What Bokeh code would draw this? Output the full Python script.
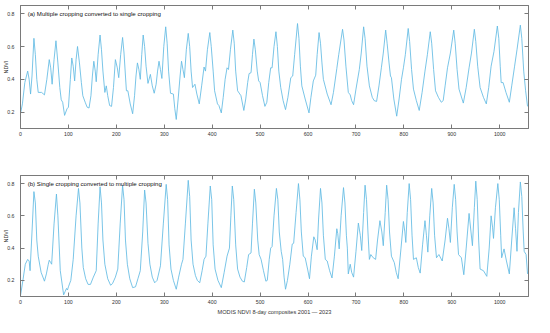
from bokeh.plotting import figure
from bokeh.models import Range1d, LinearAxis, Label, FixedTicker
from bokeh.layouts import column
from bokeh.embed import file_html
from bokeh.resources import INLINE

# ---- data ----
a_x = [0,4,9,15,18,21,24,28,31,34,37,44,50,55,60,63,66,70,74,78,82,85,88,92,97,100,104,107,110,113,116,119,123,127,130,135,139,143,147,150,153,156,158,162,166,169,172,176,179,182,186,190,194,198,202,205,209,213,216,219,221,224,229,234,238,241,244,247,250,253,256,259,262,266,271,275,279,283,286,289,292,295,299,303,306,309,313,319,322,325,329,333,336,339,342,346,350,353,356,359,364,368,373,378,383,386,390,395,398,402,405,411,414,419,423,427,431,434,438,443,446,449,453,460,466,470,474,477,481,484,487,490,494,497,500,505,510,514,518,522,525,529,533,536,539,543,548,553,558,564,568,572,578,581,584,587,594,602,606,611,616,619,623,626,629,632,640,648,653,660,664,672,675,679,684,688,691,695,700,707,711,716,719,723,728,734,738,743,748,753,757,762,765,769,772,774,779,785,790,795,799,803,809,812,816,820,826,832,838,844,849,855,858,862,866,872,878,882,886,891,897,904,907,911,915,924,930,936,941,947,950,954,959,966,972,977,982,988,995,998,1001,1003,1007,1013,1020,1025,1031,1036,1043,1046,1050,1054,1058]
a_y = [0.19,0.25,0.38,0.45,0.40,0.31,0.42,0.65,0.55,0.40,0.32,0.32,0.305,0.40,0.52,0.47,0.37,0.52,0.635,0.50,0.35,0.275,0.26,0.18,0.22,0.23,0.40,0.53,0.48,0.39,0.52,0.60,0.50,0.38,0.30,0.26,0.23,0.225,0.30,0.42,0.51,0.45,0.385,0.55,0.67,0.58,0.45,0.32,0.36,0.30,0.24,0.235,0.35,0.52,0.47,0.41,0.55,0.655,0.56,0.42,0.33,0.33,0.25,0.19,0.30,0.42,0.50,0.46,0.40,0.55,0.67,0.60,0.48,0.375,0.43,0.36,0.315,0.37,0.45,0.51,0.46,0.405,0.60,0.72,0.62,0.45,0.315,0.31,0.22,0.155,0.28,0.42,0.51,0.46,0.41,0.58,0.68,0.60,0.45,0.35,0.37,0.31,0.25,0.36,0.475,0.45,0.58,0.685,0.60,0.45,0.33,0.25,0.24,0.195,0.29,0.40,0.47,0.46,0.58,0.70,0.62,0.45,0.33,0.30,0.21,0.28,0.38,0.435,0.44,0.55,0.645,0.58,0.45,0.39,0.38,0.30,0.235,0.26,0.38,0.47,0.47,0.60,0.69,0.60,0.45,0.35,0.27,0.215,0.29,0.41,0.42,0.55,0.74,0.65,0.48,0.36,0.28,0.195,0.29,0.39,0.425,0.55,0.685,0.62,0.50,0.40,0.31,0.245,0.32,0.465,0.55,0.705,0.64,0.48,0.32,0.305,0.27,0.245,0.34,0.46,0.56,0.72,0.65,0.48,0.36,0.29,0.27,0.265,0.36,0.47,0.56,0.70,0.62,0.50,0.42,0.41,0.28,0.175,0.28,0.40,0.47,0.55,0.71,0.63,0.46,0.34,0.27,0.21,0.32,0.45,0.55,0.69,0.62,0.46,0.33,0.29,0.26,0.27,0.36,0.47,0.56,0.70,0.62,0.46,0.34,0.255,0.35,0.47,0.56,0.705,0.63,0.48,0.35,0.29,0.25,0.35,0.48,0.57,0.725,0.65,0.48,0.38,0.38,0.32,0.26,0.36,0.48,0.58,0.73,0.65,0.45,0.33,0.235]

b_x = [0,5,10,15,18,20,24,28,31,34,37,43,50,54,58,60,63,65,70,75,78,83,90,93,96,98,100,105,110,116,121,124,128,131,136,141,146,152,158,162,166,169,172,176,182,188,192,198,203,208,213,216,219,223,228,234,240,245,250,255,259,262,266,270,275,280,285,292,298,304,307,310,314,319,325,330,336,339,344,350,353,356,360,365,369,374,379,383,387,391,396,399,402,406,412,419,425,431,436,439,442,445,449,453,458,463,467,472,476,481,484,488,491,495,498,502,507,512,515,519,522,525,529,534,537,540,544,547,550,553,557,562,567,570,575,580,583,586,590,594,599,603,607,612,615,619,622,626,629,632,636,640,645,650,655,660,662,665,669,674,677,680,682,684,688,691,695,700,705,709,712,716,719,722,725,728,731,736,741,745,750,754,757,761,764,767,770,774,780,784,788,794,799,802,804,807,811,814,817,820,826,830,834,839,844,847,850,854,858,861,864,868,873,880,886,891,894,897,901,905,908,911,914,920,925,930,936,940,943,947,950,953,956,959,966,973,978,982,985,987,991,996,999,1002,1004,1009,1014,1020,1025,1030,1033,1036,1039,1043,1046,1049,1051,1055,1058]
b_y = [0.105,0.20,0.30,0.33,0.32,0.26,0.50,0.75,0.68,0.45,0.35,0.25,0.195,0.24,0.30,0.325,0.31,0.30,0.55,0.735,0.60,0.26,0.11,0.13,0.15,0.14,0.16,0.20,0.33,0.60,0.77,0.68,0.40,0.28,0.21,0.175,0.175,0.22,0.26,0.55,0.78,0.68,0.45,0.30,0.21,0.17,0.18,0.22,0.27,0.55,0.79,0.70,0.45,0.30,0.21,0.155,0.16,0.21,0.26,0.50,0.76,0.68,0.43,0.30,0.22,0.185,0.20,0.29,0.55,0.795,0.70,0.42,0.27,0.20,0.145,0.22,0.30,0.33,0.55,0.82,0.72,0.45,0.30,0.23,0.20,0.185,0.26,0.33,0.35,0.55,0.785,0.70,0.42,0.27,0.20,0.155,0.25,0.35,0.40,0.60,0.785,0.70,0.42,0.27,0.22,0.195,0.19,0.28,0.36,0.37,0.55,0.765,0.68,0.45,0.36,0.33,0.26,0.195,0.20,0.33,0.40,0.41,0.60,0.77,0.70,0.50,0.38,0.33,0.22,0.145,0.20,0.30,0.425,0.43,0.62,0.80,0.70,0.50,0.35,0.34,0.27,0.21,0.35,0.47,0.45,0.39,0.58,0.77,0.68,0.48,0.33,0.32,0.26,0.215,0.35,0.52,0.49,0.395,0.60,0.775,0.68,0.48,0.40,0.24,0.30,0.25,0.22,0.38,0.555,0.48,0.385,0.62,0.79,0.70,0.50,0.33,0.36,0.34,0.33,0.45,0.57,0.50,0.415,0.62,0.79,0.70,0.50,0.35,0.31,0.25,0.21,0.40,0.565,0.50,0.435,0.62,0.80,0.70,0.48,0.33,0.34,0.28,0.245,0.42,0.57,0.48,0.375,0.60,0.77,0.68,0.48,0.34,0.36,0.32,0.45,0.585,0.52,0.435,0.65,0.795,0.70,0.50,0.36,0.34,0.235,0.40,0.615,0.50,0.415,0.65,0.815,0.70,0.45,0.27,0.26,0.225,0.40,0.60,0.53,0.46,0.65,0.80,0.70,0.48,0.34,0.395,0.32,0.24,0.45,0.65,0.52,0.38,0.62,0.81,0.72,0.50,0.38,0.36,0.24]

x_ticks = [0,100,200,300,400,500,600,700,800,900,1000]
y_ticks = [0.2,0.4,0.6,0.8]
title_a = "(a) Multiple cropping converted to single cropping"
title_b = "(b) Single cropping converted to multiple cropping"
x_label = "MODIS NDVI 8-day composites 2001 \u2014 2023"

LINE = "#62BAE3"
AX = "#7a7a7a"
TXT = "#333333"
FONT = "Liberation Sans"

xr = Range1d(0, 1060)

def style_axis(ax, standoff):
    ax.axis_line_color = AX
    ax.axis_line_width = 1
    ax.major_tick_line_color = AX
    ax.major_tick_in = 4
    ax.major_tick_out = 0
    ax.minor_tick_line_color = None
    ax.minor_tick_out = 0
    ax.major_label_text_font = FONT
    ax.major_label_text_color = TXT
    ax.major_label_standoff = standoff
    ax.major_label_text_font_size = "5.2px"

def box_axis(ticks):
    # tick marks only (drawn as minor ticks so no labels are produced)
    ax = LinearAxis(ticker=FixedTicker(ticks=[], minor_ticks=ticks))
    ax.axis_line_color = AX
    ax.axis_line_width = 1
    ax.major_tick_line_color = None
    ax.major_tick_in = 0
    ax.major_tick_out = 0
    ax.minor_tick_line_color = AX
    ax.minor_tick_in = 4
    ax.minor_tick_out = 0
    ax.major_label_standoff = 0
    ax.axis_label_standoff = 0
    return ax

def make_fig(height, top, bottom, xs, ys, title):
    p = figure(width=534, height=height, x_range=xr, y_range=Range1d(0.1, 0.85),
               output_backend="svg", toolbar_location=None,
               min_border_left=18, min_border_right=6,
               min_border_top=top, min_border_bottom=bottom)
    p.grid.visible = False
    p.outline_line_color = AX
    p.outline_line_width = 1
    p.background_fill_color = "white"
    p.line(xs, ys, line_color=LINE, line_width=0.85)
    bx = p.xaxis[0]
    ly = p.yaxis[0]
    bx.ticker = FixedTicker(ticks=x_ticks)
    ly.ticker = FixedTicker(ticks=y_ticks)
    style_axis(bx, 3)
    style_axis(ly, 6)
    ly.axis_label = "NDVI"
    ly.axis_label_text_font = FONT
    ly.axis_label_text_font_size = "5.4px"
    ly.axis_label_text_font_style = "normal"
    ly.axis_label_text_color = TXT
    ly.axis_label_standoff = -5
    p.add_layout(box_axis(x_ticks), "above")
    p.add_layout(box_axis(y_ticks), "right")
    p.add_layout(Label(x=15, y=0.8, text=title, text_font=FONT, text_font_size="6.1px",
                       text_color="#111111", text_baseline="middle"))
    return p, bx

p1, _ = make_fig(150, 5, 22, a_x, a_y, title_a)
p2, bx2 = make_fig(167, 25, 20, b_x, b_y, title_b)
bx2.axis_label = x_label
bx2.axis_label_text_font = FONT
bx2.axis_label_text_font_size = "5.6px"
bx2.axis_label_text_font_style = "normal"
bx2.axis_label_text_color = TXT
bx2.axis_label_standoff = 2

layout = column(p1, p2, spacing=0)
open("out.html", "w").write(file_html(layout, INLINE))
